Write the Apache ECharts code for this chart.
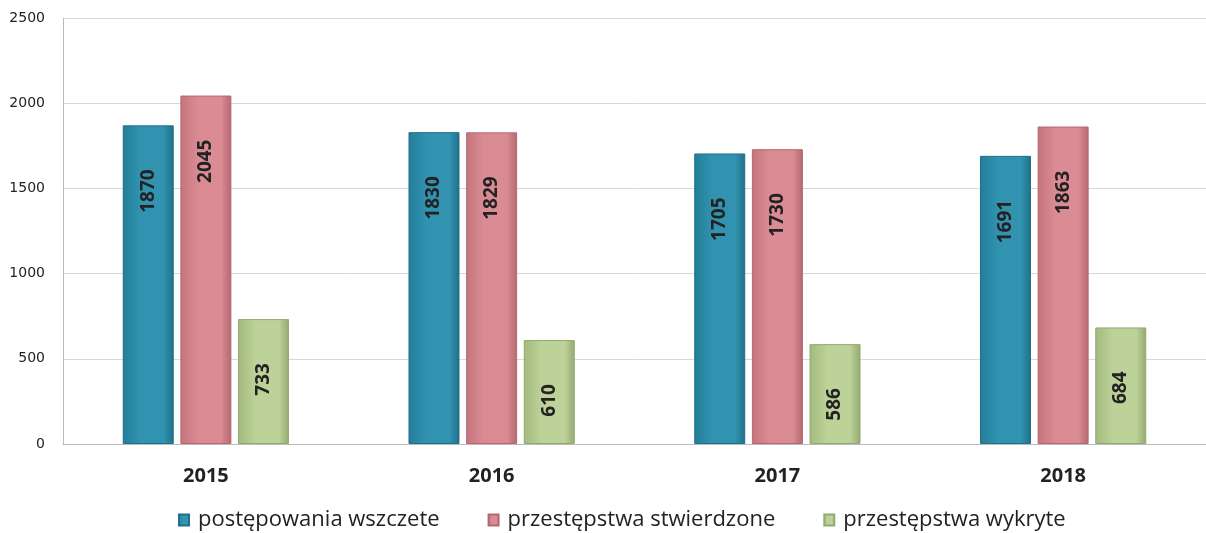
<!DOCTYPE html>
<html>
<head>
<meta charset="utf-8">
<script src="https://cdn.jsdelivr.net/npm/echarts@6/dist/echarts.min.js"></script>
<style>html,body{margin:0;padding:0;background:#fff;}#c{width:1206px;height:533px;}</style>
</head>
<body>
<div id="c"></div>
<script>
const categories = ['2015', '2016', '2017', '2018'];
const seriesNames = ['postępowania wszczete', 'przestępstwa stwierdzone', 'przestępstwa wykryte'];
const wszczete = [1870, 1830, 1705, 1691];
const stwierdzone = [2045, 1829, 1730, 1863];
const wykryte = [733, 610, 586, 684];
const yTicks = [0, 500, 1000, 1500, 2000, 2500];

const colors = [
  ['#237d98', '#3193b0', '#1f7089'],
  ['#c5747c', '#da8b93', '#b3686f'],
  ['#a3ba7e', '#bdd298', '#93a971']
];
function grad(c) {
  return new echarts.graphic.LinearGradient(0, 0, 1, 0, [
    {offset: 0, color: c[0]}, {offset: 0.35, color: c[1]}, {offset: 0.8, color: c[1]}, {offset: 1, color: c[2]}
  ]);
}
const label = {
  show: true, position: 'insideTop', rotate: 90, align: 'right', verticalAlign: 'middle',
  distance: 44, fontFamily: 'Open Sans', fontWeight: 'bold', fontSize: 19, color: '#222'
};
function mk(name, data, i) {
  return {
    name: name, type: 'bar', data: data, barWidth: 51, barGap: '13%',
    itemStyle: {color: grad(colors[i]), borderColor: colors[i][2], borderWidth: 1},
    label: label
  };
}
const chart = echarts.init(document.getElementById('c'), null, {renderer: 'canvas'});
chart.setOption({
  animation: false,
  color: [colors[0][1], colors[1][1], colors[2][1]],
  grid: {left: 63, right: -8, top: 18, bottom: 89, containLabel: false},
  legend: {
    data: seriesNames, left: 173, top: 504, itemWidth: 10, itemHeight: 11, itemGap: 48,
    icon: 'rect',
    textStyle: {fontFamily: 'Open Sans', fontSize: 22, color: '#222', padding: [0, 0, 0, 4]}
  },
  xAxis: {
    type: 'category', data: categories,
    axisLine: {lineStyle: {color: '#bbb'}}, axisTick: {show: false},
    axisLabel: {fontFamily: 'Open Sans', fontWeight: 'bold', fontSize: 20, color: '#222', margin: 22}
  },
  yAxis: {
    type: 'value', min: 0, max: 2500, interval: 500,
    axisLine: {show: true, lineStyle: {color: '#aaa', type: 'dotted'}},
    axisTick: {show: false},
    axisLabel: {fontFamily: 'DejaVu Sans', fontSize: 14, color: '#222', margin: 18,
      formatter: v => yTicks.includes(v) ? String(v) : ''},
    splitLine: {lineStyle: {color: '#d8d8d8'}}
  },
  series: [mk(seriesNames[0], wszczete, 0), mk(seriesNames[1], stwierdzone, 1), mk(seriesNames[2], wykryte, 2)]
});
</script>
</body>
</html>
